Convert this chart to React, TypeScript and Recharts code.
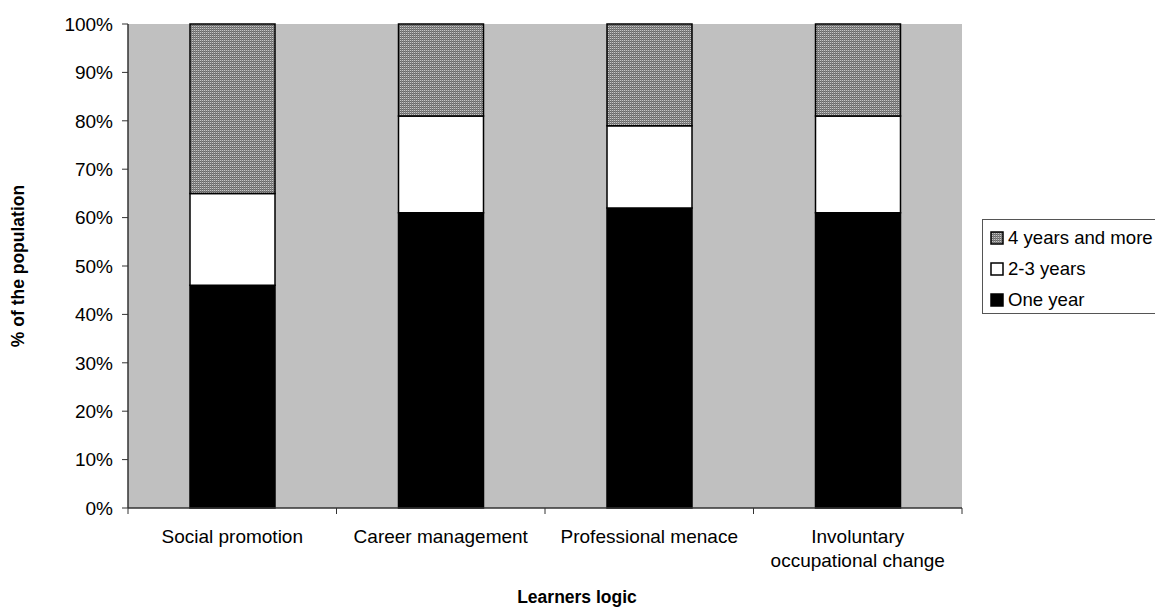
import React from 'react';
import { BarChart, Bar, XAxis, YAxis, CartesianGrid } from 'recharts';

const categories = ['Social promotion', 'Career management', 'Professional menace', 'Involuntary\noccupational change'];
const oneYear = [46, 61, 62, 61];
const twoToThree = [19, 20, 17, 20];
const fourPlus = [35, 19, 21, 19];
const yTicks = [0, 10, 20, 30, 40, 50, 60, 70, 80, 90, 100];

const series = [
  { key: 'one', name: 'One year', fill: '#000' },
  { key: 'two', name: '2-3 years', fill: '#fff' },
  { key: 'four', name: '4 years and more', fill: 'url(#dots)' },
];

const data = categories.map((name, i) => ({
  name,
  one: oneYear[i],
  two: twoToThree[i],
  four: fourPlus[i],
}));

const FONT = '"Liberation Sans", Arial, sans-serif';
const HALF_BAND = 104.25;

const CategoryTick = (props: any) => {
  const { x, y, payload, index } = props;
  const lines = String(payload.value).split('\n');
  return (
    <g>
      <line x1={x - HALF_BAND} y1={y - 6} x2={x - HALF_BAND} y2={y} stroke="#333" />
      {index === categories.length - 1 && (
        <line x1={x + HALF_BAND} y1={y - 6} x2={x + HALF_BAND} y2={y} stroke="#333" />
      )}
      <text x={x} y={y + 29} textAnchor="middle" fontFamily={FONT} fontSize={19} fill="#000">
        {lines.map((l, i) => (
          <tspan key={i} x={x} dy={i === 0 ? 0 : 24}>{l}</tspan>
        ))}
      </text>
    </g>
  );
};

const YTitle = (props: any) => {
  const { x, y, height } = props.viewBox;
  return (
    <text
      transform={`translate(${x + 16},${y + height / 2}) rotate(-90)`}
      textAnchor="middle"
      fontFamily={FONT}
      fontSize={17.5}
      fontWeight="bold"
      fill="#000"
    >
      % of the population
    </text>
  );
};

const XTitle = (props: any) => {
  const { x, y, width } = props.viewBox;
  return (
    <text x={x + width / 2 + 32} y={y + 95} textAnchor="middle" fontFamily={FONT} fontSize={17.5} fontWeight="bold" fill="#000">
      Learners logic
    </text>
  );
};

const LegendBox = () => {
  const items = [...series].reverse();
  return (
    <div style={{ position: 'absolute', left: 982, top: 219, border: '1px solid #555', background: '#fff', width: 200, height: 95, boxSizing: 'border-box', paddingTop: 2, paddingLeft: 7 }}>
      {items.map((it) => (
        <div key={it.key} style={{ display: 'flex', alignItems: 'center', height: 31, fontFamily: FONT, fontSize: 18.6, color: '#000' }}>
          <svg width={14} height={14} style={{ marginRight: 4 }}>
            <rect x={1} y={1} width={12} height={12} fill={it.fill} stroke="#000" strokeWidth={1.5} />
          </svg>
          <span style={{ whiteSpace: 'nowrap' }}>{it.name}</span>
        </div>
      ))}
    </div>
  );
};

const App: React.FC = () => {
  return (
    <div style={{ width: 1155, height: 608, overflow: 'hidden', position: 'relative' }}>
      <style>{'html,body{margin:0;padding:0;overflow:hidden}'}</style>
      <svg width={0} height={0} style={{ position: 'absolute' }}>
        <defs>
          <pattern id="dots" width={2} height={2} patternUnits="userSpaceOnUse">
            <rect x={0} y={0} width={2} height={2} fill="#808080" />
            <rect x={0} y={0} width={1} height={1} fill="#c8c8c8" />
            <rect x={0} y={1} width={1} height={1} fill="#666" />
          </pattern>
        </defs>
      </svg>
      <div style={{ position: 'absolute', left: 8, top: 8 }}>
        <BarChart width={1147} height={600} data={data} margin={{ top: 16, right: 193, left: 0, bottom: 0 }}>
          <CartesianGrid horizontal={false} vertical={false} fill="#C0C0C0" />
          <XAxis
            dataKey="name"
            height={100}
            tickLine={false}
            tickSize={6}
            tickMargin={0}
            tick={<CategoryTick />}
            interval={0}
            axisLine={{ stroke: '#333', strokeWidth: 1.5 }}
            label={<XTitle />}
          />
          <XAxis xAxisId="top" orientation="top" dataKey="name" height={0} tick={false} tickLine={false} axisLine={{ stroke: '#808080', strokeWidth: 2 }} />
          <YAxis
            width={120}
            domain={[0, 100]}
            ticks={yTicks}
            tickFormatter={(v) => `${v}%`}
            tick={{ fontFamily: FONT, fontSize: 19, fill: '#000' }}
            tickSize={6}
            tickMargin={9}
            tickLine={{ stroke: '#333' }}
            axisLine={{ stroke: '#333', strokeWidth: 1.5 }}
            label={<YTitle />}
          />
          <YAxis yAxisId="right" orientation="right" width={0} tick={false} tickLine={false} axisLine={{ stroke: '#808080', strokeWidth: 2 }} />
          {series.map((s) => (
            <Bar key={s.key} dataKey={s.key} name={s.name} stackId="a" fill={s.fill} stroke="#000" strokeWidth={1.5} barSize={85} isAnimationActive={false} />
          ))}
        </BarChart>
      </div>
      <LegendBox />
    </div>
  );
};

export default App;
